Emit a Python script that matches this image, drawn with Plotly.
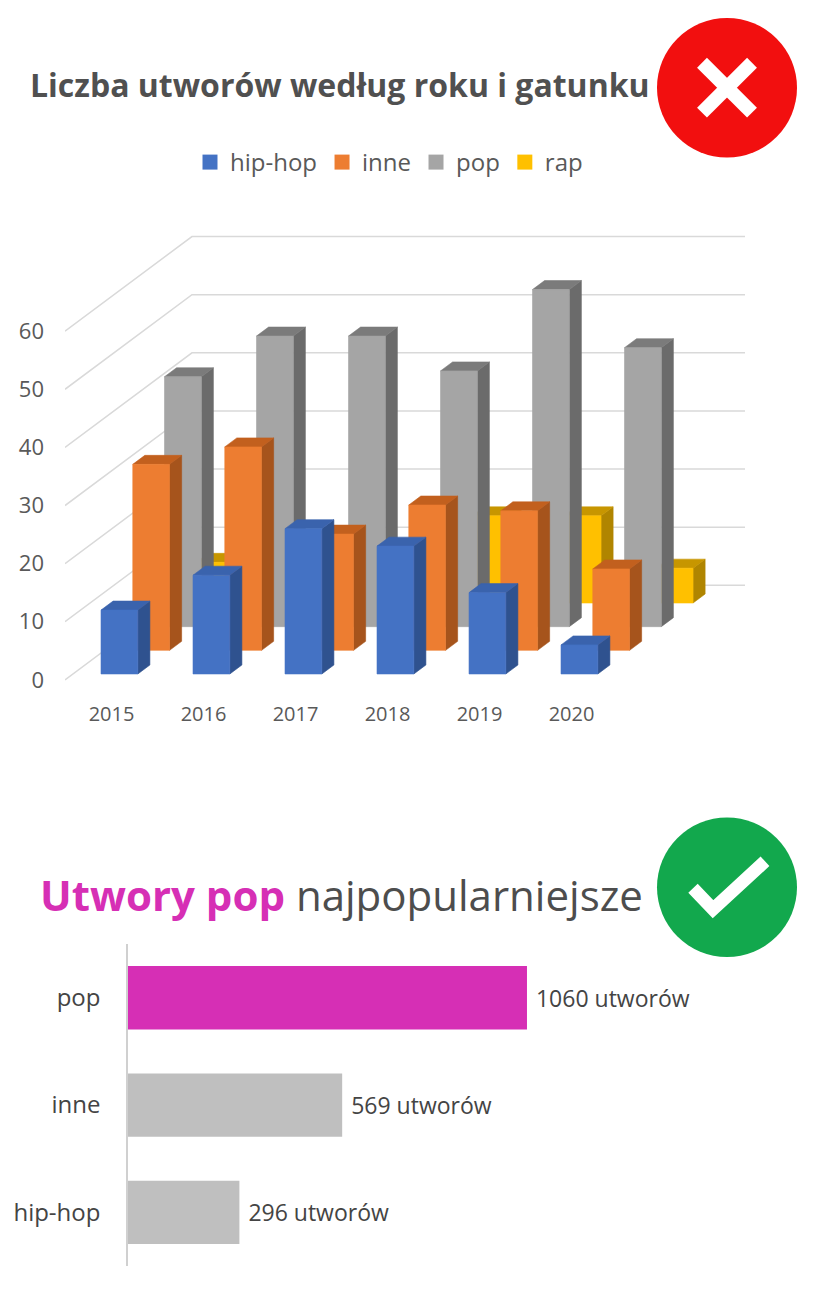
import plotly.graph_objects as go

# ---- data ----------------------------------------------------------------
years = ["2015", "2016", "2017", "2018", "2019", "2020"]
hiphop = [11, 17, 25, 22, 14, 5]
inne = [32, 35, 20, 25, 24, 14]
pop = [43, 50, 50, 44, 58, 48]
rap = [7, 6, 5, 15, 15, 6]
y_ticks = [0, 10, 20, 30, 40, 50, 60]

total_genres = ["pop", "inne", "hip-hop"]
total_values = [1060, 569, 296]

# ---- page helpers (pixel -> paper) ----------------------------------------
W, H = 816, 1292


def px(x):
    return x / W


def py(y):
    return 1 - y / H


FONT = "Open Sans"
TXT = "#595959"
SHIFT = 2  # small vertical nudge for both plot areas

# ---- fake-3D geometry for the "bad" chart ---------------------------------
# x: one unit per year, y: one unit per song; depth goes up and to the right
X0, XS = 111.5, 92.0      # pixel of x=0, px per year
Y0, YS = 680.0, 5.83      # pixel of y=0, px per unit
SLOT_DX, SLOT_DY = 0.345, 4.07   # shift per depth slot (4 slots = floor depth)
HALF = 0.2                # half bar width
BAR_DEPTH = 0.38          # bar depth in slots

x_lo, x_hi = (65 - X0) / XS, (745 - X0) / XS
y_lo, y_hi = (Y0 - 690) / YS, (Y0 - 225) / YS

fig = go.Figure()

# walls / gridlines
gx, gy = [], []
for v in y_ticks:
    gx += [x_lo, x_lo + 4 * SLOT_DX, x_hi, None]
    gy += [v, v + 4 * SLOT_DY, v + 4 * SLOT_DY, None]
fig.add_trace(go.Scatter(x=gx, y=gy, mode="lines", line=dict(color="#D9D9D9", width=1.5),
                         hoverinfo="skip", showlegend=False))


def faces(values, row):
    d0 = row + 0.25
    d1 = d0 + BAR_DEPTH
    ox0, oy0 = d0 * SLOT_DX, d0 * SLOT_DY
    ox1, oy1 = d1 * SLOT_DX, d1 * SLOT_DY
    front, side, top = ([], []), ([], []), ([], [])
    for i, v in enumerate(values):
        l, r = i - HALF, i + HALF
        front[0].extend([l + ox0, r + ox0, r + ox0, l + ox0, l + ox0, None])
        front[1].extend([oy0, oy0, v + oy0, v + oy0, oy0, None])
        side[0].extend([r + ox0, r + ox1, r + ox1, r + ox0, r + ox0, None])
        side[1].extend([oy0, oy1, v + oy1, v + oy0, oy0, None])
        top[0].extend([l + ox0, r + ox0, r + ox1, l + ox1, l + ox0, None])
        top[1].extend([v + oy0, v + oy0, v + oy1, v + oy1, v + oy0, None])
    return front, side, top


series = [
    ("rap", rap, 3, ("#FFC000", "#B08500", "#C79600")),
    ("pop", pop, 2, ("#A5A5A5", "#6B6B6B", "#7B7B7B")),
    ("inne", inne, 1, ("#ED7D31", "#A6541C", "#C2601E")),
    ("hip-hop", hiphop, 0, ("#4472C4", "#2F528F", "#3A63AD")),
]

# back rows first so the front rows cover them
for name, vals, row, cols in series:
    front, side, top = faces(vals, row)
    for (fx, fy), c in ((side, cols[1]), (top, cols[2]), (front, cols[0])):
        fig.add_trace(go.Scatter(x=fx, y=fy, mode="lines", fill="toself", fillcolor=c,
                                 line=dict(color=c, width=0.6), hoverinfo="skip",
                                 showlegend=False))

# legend entries (in the original order)
for name, vals, row, cols in sorted(series, key=lambda s: s[2]):
    fig.add_trace(go.Scatter(x=[None], y=[None], mode="markers", name=name,
                             marker=dict(symbol="square", size=15, color=cols[0])))

# ---- the "good" chart -------------------------------------------------------
fig.add_trace(go.Bar(
    x=total_values, y=total_genres, orientation="h",
    marker=dict(color=["#D62FB5", "#BFBFBF", "#BFBFBF"], line=dict(width=0)),
    text=["\u00a0%d utworów" % v for v in total_values],
    textposition="outside", cliponaxis=False,
    textfont=dict(family=FONT, size=23, color="#444444"),
    xaxis="x2", yaxis="y2", showlegend=False, hoverinfo="skip",
))

X2S = 0.3764  # px per song
x2_hi = 1700

fig.update_layout(
    width=W, height=H,
    margin=dict(l=0, r=0, t=0, b=0),
    paper_bgcolor="white", plot_bgcolor="white",
    font=dict(family=FONT, color=TXT),
    bargap=0.41,
    xaxis=dict(domain=[px(65), px(745)], range=[x_lo, x_hi], showgrid=False, zeroline=False,
               showline=False, tickvals=list(range(len(years))), ticktext=years,
               tickfont=dict(size=20, color=TXT), ticklabelstandoff=10, fixedrange=True),
    yaxis=dict(domain=[py(690 + SHIFT), py(225 + SHIFT)], range=[y_lo, y_hi],
               showgrid=False, zeroline=False, showline=False, tickvals=y_ticks,
               tickfont=dict(size=22, color=TXT), ticklabelstandoff=20, fixedrange=True),
    xaxis2=dict(domain=[px(128), px(128 + x2_hi * X2S)], range=[0, x2_hi], anchor="y2",
                showgrid=False, zeroline=False, showticklabels=False, showline=False),
    yaxis2=dict(domain=[py(1268 + SHIFT), py(945 + SHIFT)], anchor="x2",
                autorange="reversed", showgrid=False, zeroline=False, showline=True,
                linecolor="#D0D0D0", linewidth=1.5, tickfont=dict(size=24, color="#444444"),
                ticklabelstandoff=21),
    legend=dict(orientation="h", x=px(389), xanchor="center", y=py(163), yanchor="middle",
                font=dict(size=24, color=TXT), itemwidth=30, bgcolor="rgba(0,0,0,0)"),
    annotations=[
        dict(x=px(28), y=py(85), xref="paper", yref="paper", xanchor="left", yanchor="middle",
             showarrow=False, text="<b>Liczba utworów według roku i gatunku</b>",
             font=dict(family=FONT, size=32, color="#505050")),
        dict(x=px(38), y=py(897), xref="paper", yref="paper", xanchor="left", yanchor="middle",
             showarrow=False,
             text="<b><span style='color:#D62FB5'>Utwory pop</span></b> najpopularniejsze",
             font=dict(family=FONT, size=42, color="#4D4D4D")),
    ],
    shapes=[
        dict(type="circle", xref="paper", yref="paper", x0=px(657), x1=px(797),
             y0=py(158), y1=py(18), fillcolor="#F20F0F", line=dict(width=0)),
        dict(type="line", xref="paper", yref="paper", x0=px(702), y0=py(63), x1=px(752),
             y1=py(113), line=dict(color="white", width=14)),
        dict(type="line", xref="paper", yref="paper", x0=px(752), y0=py(63), x1=px(702),
             y1=py(113), line=dict(color="white", width=14)),
        dict(type="circle", xref="paper", yref="paper", x0=px(657), x1=px(797),
             y0=py(960), y1=py(820), fillcolor="#12A84D", line=dict(width=0)),
        dict(type="path", xref="paper", yref="paper",
             path="M %f,%f L %f,%f L %f,%f" % (px(693), py(891), px(713), py(912),
                                               px(765), py(864)),
             line=dict(color="white", width=13)),
    ],
)

fig.write_html("out.html", config={"displayModeBar": False},
               post_script="document.body.style.margin='0px';")
